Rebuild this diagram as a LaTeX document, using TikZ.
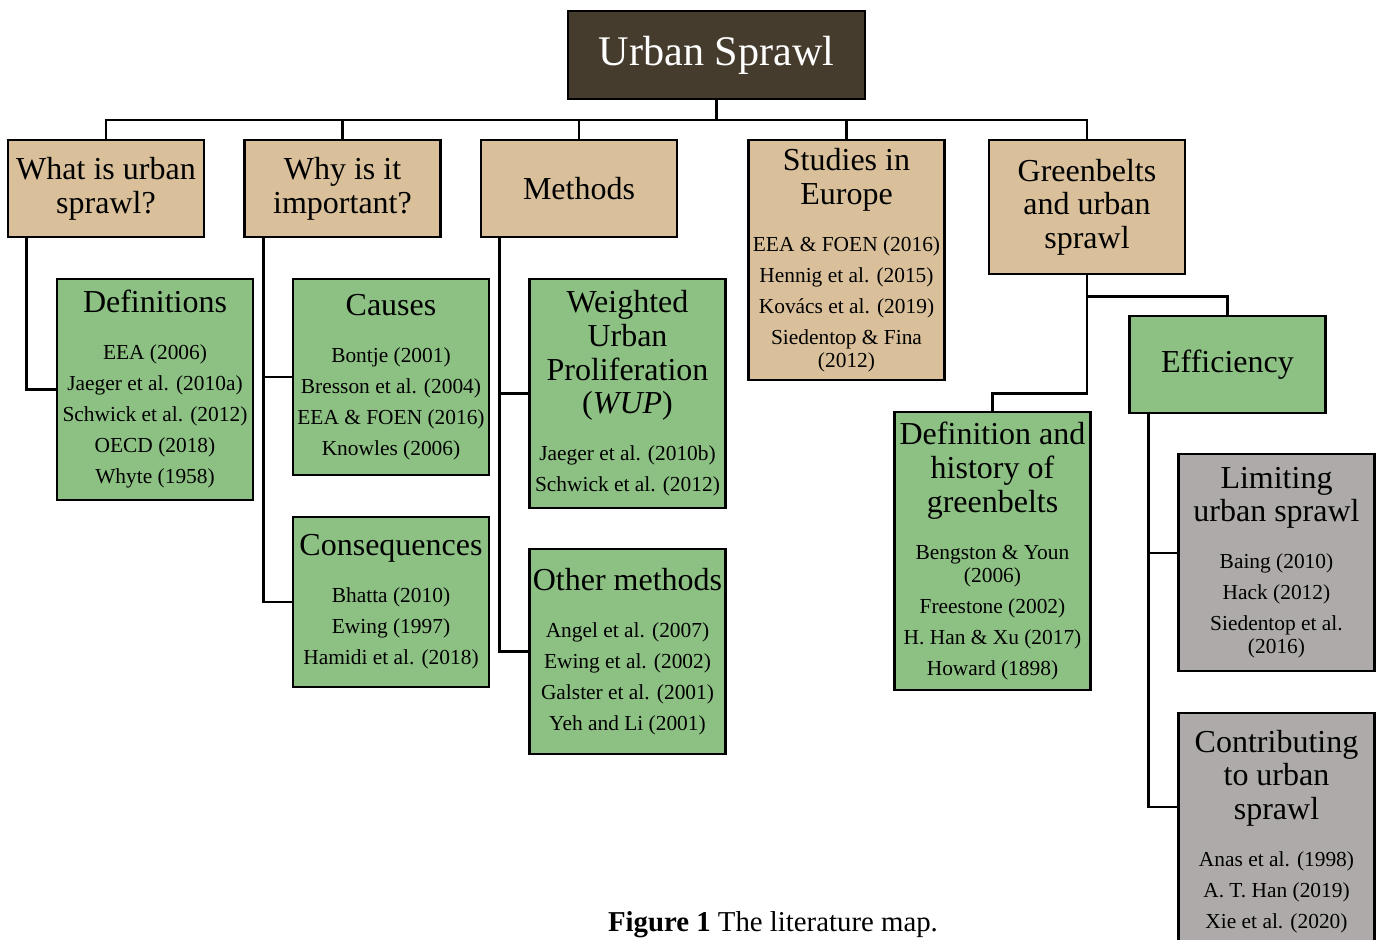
\documentclass[tikz,border=0pt]{standalone}
\usepackage{fontspec}
\setmainfont{Liberation Serif}
\usepackage{xcolor}
\usepackage{tikz}
\usetikzlibrary{positioning}

\definecolor{sprawlbrown}{RGB}{69,60,45}
\definecolor{sprawltan}{RGB}{217,192,155}
\definecolor{sprawlgreen}{RGB}{141,193,131}
\definecolor{sprawlgrey}{RGB}{174,170,169}

\newcommand{\hd}{\fontsize{16}{16.8}\selectfont}
\newcommand{\rf}{\fontsize{10.7}{11.5}\selectfont}
\newcommand{\lit}[2]{{\hd #1\par}\vspace{12pt}{\rf #2\par}}

\begin{document}
\begin{tikzpicture}[x=0.5pt, y=-0.5pt, line width=1.4pt,
  box/.style={draw=black, text width=96pt, inner sep=1pt, minimum width=98pt, align=flush center, font=\hd},
  topic/.style={box, fill=sprawltan},
  theme/.style={box, fill=sprawlgreen},
  sub/.style={box, fill=sprawlgrey}]
\useasboundingbox (0,0) rectangle (1378,939);
\clip (0,0) rectangle (1378,939);

\node[draw=black, fill=sprawlbrown, text=white, minimum width=148.5pt, minimum height=44pt, font=\fontsize{21.1}{24}\selectfont] (sprawl) at (716.5,55) {Urban Sprawl};

\node[topic, minimum height=48.5pt] (what) at (106,188.5) {What is urban\\sprawl?};
\node[topic, minimum height=48.5pt] (why) at (342.5,188.5) {Why is it\\important?};
\node[topic, minimum height=48.5pt] (methods) at (579,188.5) {Methods};
\node[topic, minimum height=120pt] (europe) at (846.5,260) {\lit{Studies in\\Europe}{EEA \& FOEN (2016)\\[4pt]Hennig et al. (2015)\\[4pt]Kovács et al. (2019)\\[4pt]Siedentop \& Fina\\(2012)}};
\node[topic, minimum height=67pt] (greenbelts) at (1087,207) {Greenbelts\\and urban\\sprawl};

\node[theme, minimum height=110.5pt] (defs) at (155,389.5) {\lit{Definitions}{EEA (2006)\\[4pt]Jaeger et al. (2010a)\\[4pt]Schwick et al. (2012)\\[4pt]OECD (2018)\\[4pt]Whyte (1958)}};
\node[theme, minimum height=98pt] (causes) at (391,377) {\lit{Causes}{Bontje (2001)\\[4pt]Bresson et al. (2004)\\[4pt]EEA \& FOEN (2016)\\[4pt]Knowles (2006)}};
\node[theme, minimum height=85pt] (consequences) at (391,602) {\lit{Consequences}{Bhatta (2010)\\[4pt]Ewing (1997)\\[4pt]Hamidi et al. (2018)}};
\node[theme, minimum height=114.5pt] (wup) at (627.5,393.5) {\lit{Weighted\\Urban\\Proliferation\\(\textit{WUP})}{Jaeger et al. (2010b)\\[4pt]Schwick et al. (2012)}};
\node[theme, minimum height=102.5pt] (othermethods) at (627.5,651.5) {\lit{Other methods}{Angel et al. (2007)\\[4pt]Ewing et al. (2002)\\[4pt]Galster et al. (2001)\\[4pt]Yeh and Li (2001)}};
\node[theme, minimum height=48.5pt] (efficiency) at (1227.5,364.5) {Efficiency};
\node[theme, minimum height=139pt] (history) at (992.5,551) {\lit{Definition and\\history of\\greenbelts}{Bengston \& Youn\\(2006)\\[4pt]Freestone (2002)\\[4pt]H. Han \& Xu (2017)\\[4pt]Howard (1898)}};
\node[sub, minimum height=108.5pt] (limiting) at (1276.5,562.5) {\lit{Limiting\\urban sprawl}{Baing (2010)\\[4pt]Hack (2012)\\[4pt]Siedentop et al.\\(2016)}};
\node[sub, minimum height=118.5pt] (contributing) at (1276.5,831.5) {\lit{Contributing\\to urban\\sprawl}{Anas et al. (1998)\\[4pt]A. T. Han (2019)\\[4pt]Xie et al. (2020)}};

\node[anchor=base, font=\fontsize{14.4}{17}\selectfont] (caption) at (773,931) {\textbf{Figure 1} The literature map.};

\coordinate (bus) at (716.5,120);
\draw (sprawl.south) -- (bus);
\draw (what.north) |- (bus) -| (greenbelts.north);
\draw (why.north) -- (why.north |- bus);
\draw (methods.north) -- (methods.north |- bus);
\draw (europe.north) -- (europe.north |- bus);

\draw ([xshift=10pt]what.south west) |- (defs.west);
\draw ([xshift=10pt]why.south west) |- (causes.west);
\draw ([xshift=10pt]why.south west) |- (consequences.west);
\draw ([xshift=10pt]methods.south west) |- (wup.west);
\draw ([xshift=10pt]methods.south west) |- (othermethods.west);
\draw (greenbelts.south) -- ++(0,21) -| (efficiency.north);
\draw (greenbelts.south) -- ++(0,118) -| (history.north);
\draw ([xshift=10pt]efficiency.south west) |- ([yshift=4.75pt]limiting.west);
\draw ([xshift=10pt]efficiency.south west) |- ([yshift=12.25pt]contributing.west);
\end{tikzpicture}
\end{document}
